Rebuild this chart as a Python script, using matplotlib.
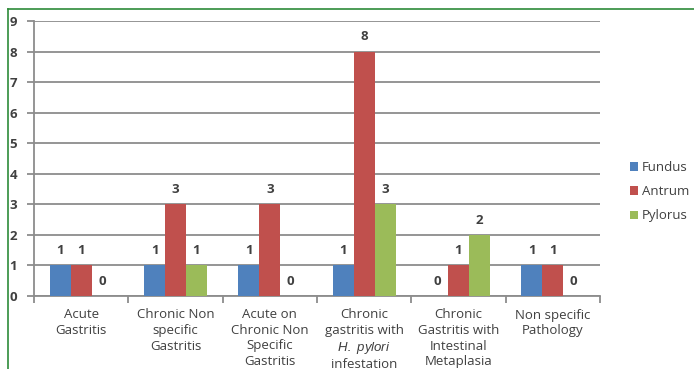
import matplotlib
matplotlib.use("Agg")
import matplotlib.pyplot as plt
import numpy as np
from matplotlib.lines import Line2D

plt.rcParams['font.family'] = ['Open Sans', 'DejaVu Sans']
plt.rcParams['mathtext.fontset'] = 'custom'
plt.rcParams['mathtext.it'] = 'Liberation Sans:italic'

categories = ["Acute\nGastritis",
              "Chronic Non\nspecific\nGastritis",
              "Acute on\nChronic Non\nSpecific\nGastritis",
              "Chronic\ngastritis with\n$\\it{H.\\ pylori}$\ninfestation",
              "Chronic\nGastritis with\nIntestinal\nMetaplasia",
              "Non specific\nPathology"]
fundus = [1, 1, 1, 1, 0, 1]
antrum = [1, 3, 3, 8, 1, 1]
pylorus = [0, 1, 0, 3, 2, 0]
series_names = ["Fundus", "Antrum", "Pylorus"]
colors = ["#4F81BD", "#C0504D", "#9BBB59"]
yticks = list(range(0, 10))

fig = plt.figure(figsize=(6.94, 3.69), dpi=100)
ax = fig.add_axes([34/694, 1-296/369, (600-34)/694, (296-21)/369])

x = np.arange(len(categories))
w = 0.222
txtc = "#404040"
for i, (vals, name, c) in enumerate(zip([fundus, antrum, pylorus], series_names, colors)):
    bars = ax.bar(x + (i-1)*w, vals, w, color=c, label=name, zorder=3)
    for b, v in zip(bars, vals):
        ax.annotate(str(v), (b.get_x()+b.get_width()/2, v), xytext=(0, 10.5),
                    textcoords="offset points", ha="center", va="center",
                    fontsize=9.5, fontweight="bold", color=txtc)

ax.set_xlim(-0.5, len(categories)-0.5)
ax.set_ylim(0, 9)
ax.set_yticks(yticks)
ax.set_yticklabels([str(t) for t in yticks], fontsize=9.5, fontweight="bold", color=txtc)
ax.yaxis.grid(True, color="#8c8c8c", linewidth=1.3, zorder=0)
ax.set_axisbelow(True)
ax.set_xticks(x)
ax.set_xticklabels(categories, fontsize=9.5, color=txtc, linespacing=1.25, va="top")
ax.tick_params(axis="x", which="major", length=0, pad=9)
ax.set_xticks(np.arange(-0.5, len(categories)), minor=True)
ax.tick_params(axis="x", which="minor", length=5, color="#8c8c8c", width=1.3)
ax.tick_params(axis="y", length=5, color="#8c8c8c", width=1.3, pad=7)
for s in ["top", "right"]:
    ax.spines[s].set_visible(False)
for s in ["left", "bottom"]:
    ax.spines[s].set_color("#8c8c8c")
    ax.spines[s].set_linewidth(1.3)

leg = ax.legend(loc="upper left", bbox_to_anchor=(630/694, 1-161/369), bbox_transform=fig.transFigure,
                frameon=False, fontsize=9.5, handlelength=0.6, handleheight=0.6,
                handletextpad=0.3, labelspacing=0.85, borderpad=0, borderaxespad=0)
for t in leg.get_texts():
    t.set_color(txtc)

# green frame (left and top edges visible)
fig.add_artist(Line2D([8/694, 8/694], [0, 1-9/369], color="#2e8b3a", linewidth=1.2, transform=fig.transFigure))
fig.add_artist(Line2D([8/694, 1], [1-9/369, 1-9/369], color="#2e8b3a", linewidth=1.2, transform=fig.transFigure))

fig.savefig("out.png", dpi=100)
